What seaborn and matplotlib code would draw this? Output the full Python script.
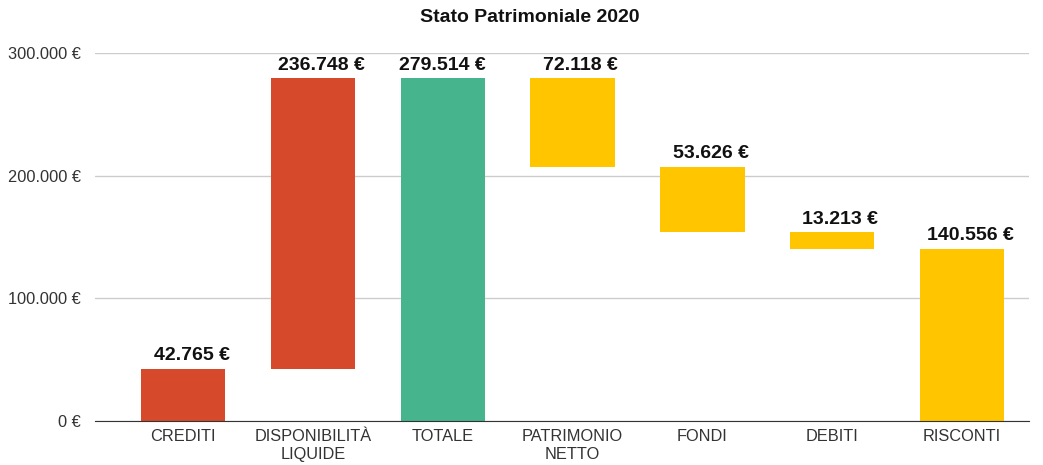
import numpy as np
import matplotlib
matplotlib.use('Agg')
import matplotlib.pyplot as plt
import seaborn as sns

# Data
categories = ['CREDITI', 'DISPONIBILITÀ\nLIQUIDE', 'TOTALE', 'PATRIMONIO\nNETTO', 'FONDI', 'DEBITI', 'RISCONTI']
values = [42765, 236748, 279514, 72118, 53626, 13213, 140556]
bottoms = [0, 42765, 0, 207396, 153770, 140557, 0]
bar_colors = ['#D64A2B', '#D64A2B', '#46B48C', '#FFC600', '#FFC600', '#FFC600', '#FFC600']
yticks = [0, 100000, 200000, 300000]

sns.set_style('white')
plt.rcParams['font.family'] = ['Liberation Sans', 'DejaVu Sans']

fig = plt.figure(figsize=(10.43, 4.65), dpi=100)
ax = fig.add_axes([0.091, 0.0946, 0.896, 0.7914])

sns.barplot(x=categories, y=values, bottom=bottoms, width=0.65, ax=ax,
            color=bar_colors[0], saturation=1, zorder=3)
for patch, c in zip(ax.patches, bar_colors):
    patch.set_facecolor(c)
    patch.set_edgecolor('none')

# value labels over each bar top
def euro(v):
    return f'{v:,.0f}'.replace(',', '.') + ' €'

for i, (v, b) in enumerate(zip(values, bottoms)):
    dx = 0 if categories[i] == 'TOTALE' else 6  # step labels sit a bit to the right
    ax.annotate(euro(v), (i, v + b), xytext=(dx, 3), textcoords='offset points',
                ha='center', va='bottom', fontsize=14, fontweight='bold', color='#111111')

ax.set_ylim(0, 300000)
ax.set_xlim(-0.68, 6.52)
ax.set_yticks(yticks)
ax.set_yticklabels([euro(t) for t in yticks])
ax.yaxis.grid(True, color='#CCCCCC', linewidth=1, zorder=0)
ax.tick_params(axis='both', length=0, labelsize=11.8, labelcolor='#333333')
ax.tick_params(axis='y', pad=10)
ax.tick_params(axis='x', pad=6)
for s in ['top', 'right', 'left']:
    ax.spines[s].set_visible(False)
ax.spines['bottom'].set_color('#333333')
ax.spines['bottom'].set_zorder(4)

fig.text(0.508, 0.963, 'Stato Patrimoniale 2020', ha='center', va='center',
         fontsize=14, fontweight='bold', color='#111111')

fig.savefig('out.png', dpi=100)
